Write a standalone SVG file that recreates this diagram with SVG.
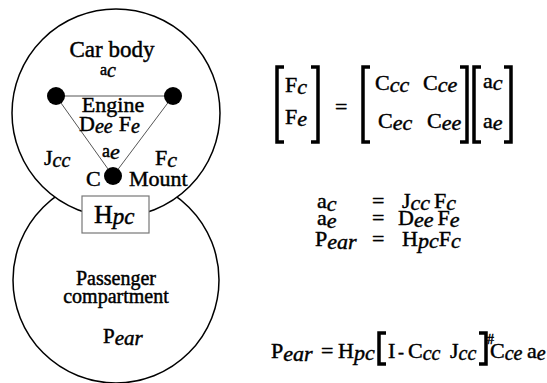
<svg xmlns="http://www.w3.org/2000/svg" width="547" height="383" viewBox="0 0 547 383">
<style>
text{font-family:"Liberation Serif","Times New Roman",serif;fill:#000;stroke:#000;stroke-width:0.45;font-size:22px}
.i{font-style:italic}
.c{text-anchor:middle}
.circ{fill:#fff;stroke:#000;stroke-width:1.5}
.link{stroke:#555;stroke-width:1;fill:none}
.dot{fill:#000}
.br{fill:none;stroke:#000;stroke-width:3.5;stroke-linecap:butt;stroke-linejoin:miter}
</style>
<rect width="547" height="383" fill="#fff"/>
<g id="passenger">
<circle class="circ" cx="116" cy="280" r="103"/>
<text class="c" x="116" y="285" style="font-size:20px">Passenger</text>
<text class="c" x="116" y="303" style="font-size:20px">compartment</text>
<text x="103" y="343" style="font-size:21px">P<tspan class="i" dy="2">ear</tspan></text>
</g>
<g id="carbody">
<circle class="circ" cx="116" cy="113" r="104"/>
<text class="c" x="112" y="57" style="font-size:23px">Car body</text>
<text x="100" y="75" style="font-size:16px">a<tspan class="i" dy="2" style="font-size:20px">c</tspan></text>
</g>
<g id="connectors">
<line class="link" x1="56" y1="96" x2="173" y2="96"/>
<line class="link" x1="56" y1="96" x2="113" y2="176"/>
<line class="link" x1="173" y1="96" x2="113" y2="176"/>
</g>
<g id="engine">
<circle class="dot" cx="56" cy="96" r="9"/>
<circle class="dot" cx="173" cy="96" r="9"/>
<text class="c" x="113" y="112">Engine</text>
<text x="79" y="131">D<tspan class="i" dy="2" style="font-size:20px">ee</tspan><tspan dx="6" dy="-2">F</tspan><tspan class="i" dy="2" style="font-size:20px">e</tspan></text>
<text x="102" y="157" style="font-size:18px">a<tspan class="i" dy="2" style="font-size:22px">e</tspan></text>
</g>
<g id="labels">
<text x="44" y="165">J<tspan class="i" dy="2" style="font-size:20px">cc</tspan></text>
<text x="155" y="165">F<tspan class="i" dy="2" style="font-size:22px">c</tspan></text>
</g>
<g id="mount">
<circle class="dot" cx="113" cy="176" r="9"/>
<text x="86" y="186">C</text>
<text x="129" y="186">Mount</text>
</g>
<g id="hpc">
<rect x="82" y="196" width="67" height="37" fill="#fff" stroke="#777" stroke-width="1.2"/>
<text x="94" y="223" style="font-size:26px">H<tspan class="i" dy="1" style="font-size:23px">pc</tspan></text>
</g>
<g id="matrix-eq">
<path class="br" d="M284,67 H277 V142 H284"/>
<path class="br" d="M311,67 H318 V142 H311"/>
<text x="285" y="92">F<tspan class="i" dy="2">c</tspan></text>
<text x="285" y="124">F<tspan class="i" dy="2">e</tspan></text>
<text x="335" y="114">=</text>
<path class="br" d="M370,67 H363 V142 H370"/>
<path class="br" d="M460,67 H467 V142 H460"/>
<text x="375" y="90">C<tspan class="i" dy="2">cc</tspan></text>
<text x="423" y="90">C<tspan class="i" dy="2">ce</tspan></text>
<text x="378" y="128">C<tspan class="i" dy="2">ec</tspan></text>
<text x="427" y="128">C<tspan class="i" dy="2">ee</tspan></text>
<path class="br" d="M481,67 H474 V142 H481"/>
<path class="br" d="M504,67 H511 V142 H504"/>
<text x="483" y="88">a<tspan class="i" dy="2">c</tspan></text>
<text x="483" y="128">a<tspan class="i" dy="2">e</tspan></text>
</g>
<g id="relations">
<text x="317" y="208">a<tspan class="i" dy="3">c</tspan></text>
<text x="372" y="208">=</text>
<text x="402" y="208">J<tspan class="i" dy="2">cc</tspan><tspan dx="4" dy="-2">F</tspan><tspan class="i" dy="2">c</tspan></text>
<text x="317" y="225">a<tspan class="i" dy="3">e</tspan></text>
<text x="372" y="225">=</text>
<text x="398" y="225">D<tspan class="i" dy="2">ee</tspan><tspan dx="4" dy="-2">F</tspan><tspan class="i" dy="2">e</tspan></text>
<text x="315" y="246">P<tspan class="i" dy="3">ear</tspan></text>
<text x="372" y="246">=</text>
<text x="402" y="246">H<tspan class="i" dy="2">pc</tspan><tspan dy="-2">F</tspan><tspan class="i" dy="2">c</tspan></text>
</g>
<g id="final-eq">
<text x="271" y="358">P<tspan class="i" dy="3">ear</tspan></text>
<text x="321" y="358">=</text>
<text x="338" y="358">H<tspan class="i" dy="2">pc</tspan></text>
<path class="br" d="M386,333 H379 V364 H386"/>
<text x="388" y="358">I</text>
<text x="398" y="358" style="font-size:18px">-</text>
<text x="408" y="358">C<tspan class="i" dy="2" style="font-size:20px">cc</tspan></text>
<text x="450" y="358">J<tspan class="i" dy="2" style="font-size:20px">cc</tspan></text>
<path class="br" d="M479,333 H486 V364 H479"/>
<text x="487" y="344" style="font-size:14px">#</text>
<text x="490" y="358">C<tspan class="i" dy="2" style="font-size:20px">ce</tspan></text>
<text x="527" y="358">a<tspan class="i" dy="2" style="font-size:20px">e</tspan></text>
</g>
</svg>
